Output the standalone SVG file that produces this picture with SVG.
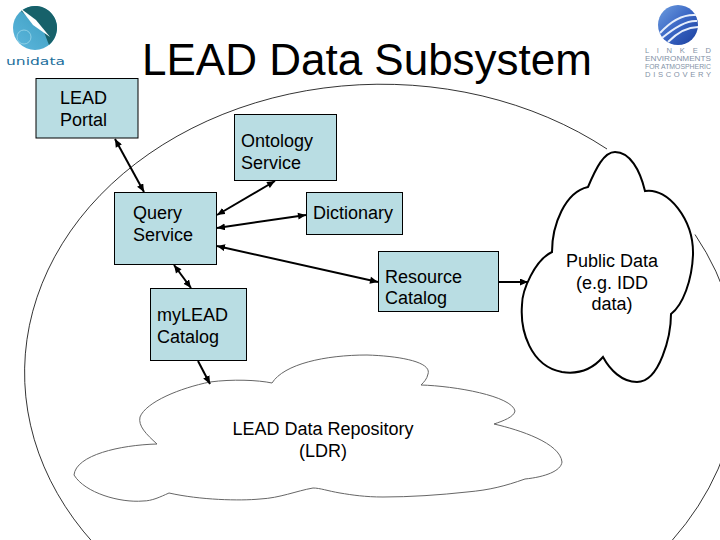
<svg xmlns="http://www.w3.org/2000/svg" width="720" height="540" viewBox="0 0 720 540">
<style>
text{font-family:"Liberation Sans",Arial,sans-serif;font-size:18px;fill:#000}
.n{fill:#b9dde3;stroke:#000;stroke-width:1}
.c{stroke:#000;stroke-width:2;fill:none;marker-end:url(#a)}
.d{marker-start:url(#b)}
.m{text-anchor:middle}
.l{font-size:7.6px;fill:#8492a6;text-anchor:middle}
</style>
<defs>
<marker id="a" markerUnits="userSpaceOnUse" markerWidth="9" markerHeight="8" refX="8" refY="3.500" orient="auto"><path d="M0 0L8 3.500L0 7z" fill="#000"/></marker>
<marker id="b" markerUnits="userSpaceOnUse" markerWidth="9" markerHeight="8" refX="0" refY="3.500" orient="auto"><path d="M8 0L0 3.500L8 7z" fill="#000"/></marker>
<linearGradient id="u" x1="0" y1="1" x2="1" y2="0"><stop offset="0" stop-color="#5db7de"/><stop offset=".5" stop-color="#4aa8cc"/><stop offset="1" stop-color="#2f8f9a"/></linearGradient>
<linearGradient id="v" x1="0" y1="0" x2="1" y2="1"><stop offset="0" stop-color="#6f9fe0"/><stop offset=".5" stop-color="#3a66c4"/><stop offset="1" stop-color="#1b3f9e"/></linearGradient>
</defs>
<rect width="720" height="540" fill="#fff"/>
<path id="boundary" d="M607 149A357 288.500 0 1 0 672 540.500M695 234.500A357 288.500 0 0 1 672 540.500" fill="none" stroke="#000" stroke-width="0.8"/>
<g id="unidata-logo">
<circle cx="35" cy="28" r="22" fill="url(#u)"/>
<path d="M21 11A22 22 0 0 1 49 45L44 32Z" fill="#17616a"/>
<path d="M20 8L36 20L50 37L33 25Z" fill="#fff"/>
<circle cx="24" cy="37" r="7" fill="none" stroke="#a8dcec" stroke-width="0.7"/>
<text x="35.500" y="65" class="m" style="font-size:11px;fill:#1d6f9c;font-family:'DejaVu Sans',sans-serif" textLength="59" lengthAdjust="spacingAndGlyphs">unidata</text>
</g>
<g id="lead-logo">
<circle cx="678" cy="25" r="20" fill="url(#v)"/>
<path d="M660 33C670 22 682 14 696 15M662 38C674 28 686 20 697 21M668 42C678 32 688 27 698 27" fill="none" stroke="#e6eefb" stroke-width="2"/>
<text x="678" y="53" class="l" textLength="66" lengthAdjust="spacing">L I N K E D</text>
<text x="678" y="61" class="l" textLength="66" lengthAdjust="spacingAndGlyphs">ENVIRONMENTS</text>
<text x="678" y="69" class="l" textLength="66" lengthAdjust="spacingAndGlyphs">FOR ATMOSPHERIC</text>
<text x="678" y="77" class="l" textLength="66" lengthAdjust="spacing">DISCOVERY</text>
</g>
<text id="title" x="142" y="75" style="font-size:44px">LEAD Data Subsystem</text>
<g id="ldr">
<path d="M157 444C146 434 138 426 140 417C146 402 180 388 210 382C232 379 258 380 272 383C284 364 325 355 367 355C400 356 432 362 428 374C427 379 424 382 421 385C455 386 512 396 515 411C514 417 503 421 494 424C520 430 560 443 562 462C561 471 545 477 525 479C505 486 490 490 467 492C440 495 410 497 383 497C365 497 352 495 340 493C328 491 320 488 313 488C296 491 280 498 260 499C240 501 200 500 169 493C160 497 152 501 143 501C120 503 85 493 74 475C76 455 120 445 157 444Z" fill="#fff" stroke="#666" stroke-width="1"/>
<text x="323" y="435" class="m">LEAD Data Repository</text>
<text x="323" y="457" class="m">(LDR)</text>
</g>
<g id="public-data">
<path d="M588 187C596 168 604 152 615 152C630 152 640 170 645 191C668 187 694 220 693 255C692 280 683 305 671 314C671 335 660 382 637 382C622 382 610 370 603 357C590 372 575 374 562 372C530 366 520 330 522 305C522 290 535 260 552 252C552 225 565 192 588 187Z" fill="#fff" stroke="#000" stroke-width="2"/>
<text x="612" y="267" class="m">Public Data</text>
<text x="612" y="289" class="m">(e.g. IDD</text>
<text x="612" y="310" class="m">data)</text>
</g>
<g id="lead-portal"><rect class="n" x="36" y="78.500" width="102" height="59.500"/><text x="60" y="104">LEAD</text><text x="60" y="126">Portal</text></g>
<g id="ontology-service"><rect class="n" x="234.500" y="114.500" width="102" height="66"/><text x="241" y="147">Ontology</text><text x="241" y="169">Service</text></g>
<g id="query-service"><rect class="n" x="114.500" y="192.500" width="102" height="72"/><text x="133" y="219">Query</text><text x="133" y="241">Service</text></g>
<g id="dictionary"><rect class="n" x="306.500" y="192.500" width="96" height="42"/><text x="313" y="219">Dictionary</text></g>
<g id="resource-catalog"><rect class="n" x="378.500" y="251.500" width="120" height="60"/><text x="385" y="283">Resource</text><text x="385" y="304">Catalog</text></g>
<g id="mylead-catalog"><rect class="n" x="150.500" y="288.500" width="96" height="72"/><text x="157" y="321">myLEAD</text><text x="157" y="343">Catalog</text></g>
<g id="connectors">
<line class="c d" x1="115" y1="139" x2="144" y2="192"/>
<line class="c d" x1="275" y1="181" x2="217" y2="215"/>
<line class="c d" x1="306" y1="215" x2="217" y2="228"/>
<line class="c d" x1="378" y1="282" x2="217" y2="246"/>
<line class="c d" x1="174" y1="265" x2="191" y2="288"/>
<line class="c" x1="198" y1="361" x2="210" y2="384"/>
<line class="c" x1="498" y1="282" x2="528" y2="282"/>
</g>
</svg>
